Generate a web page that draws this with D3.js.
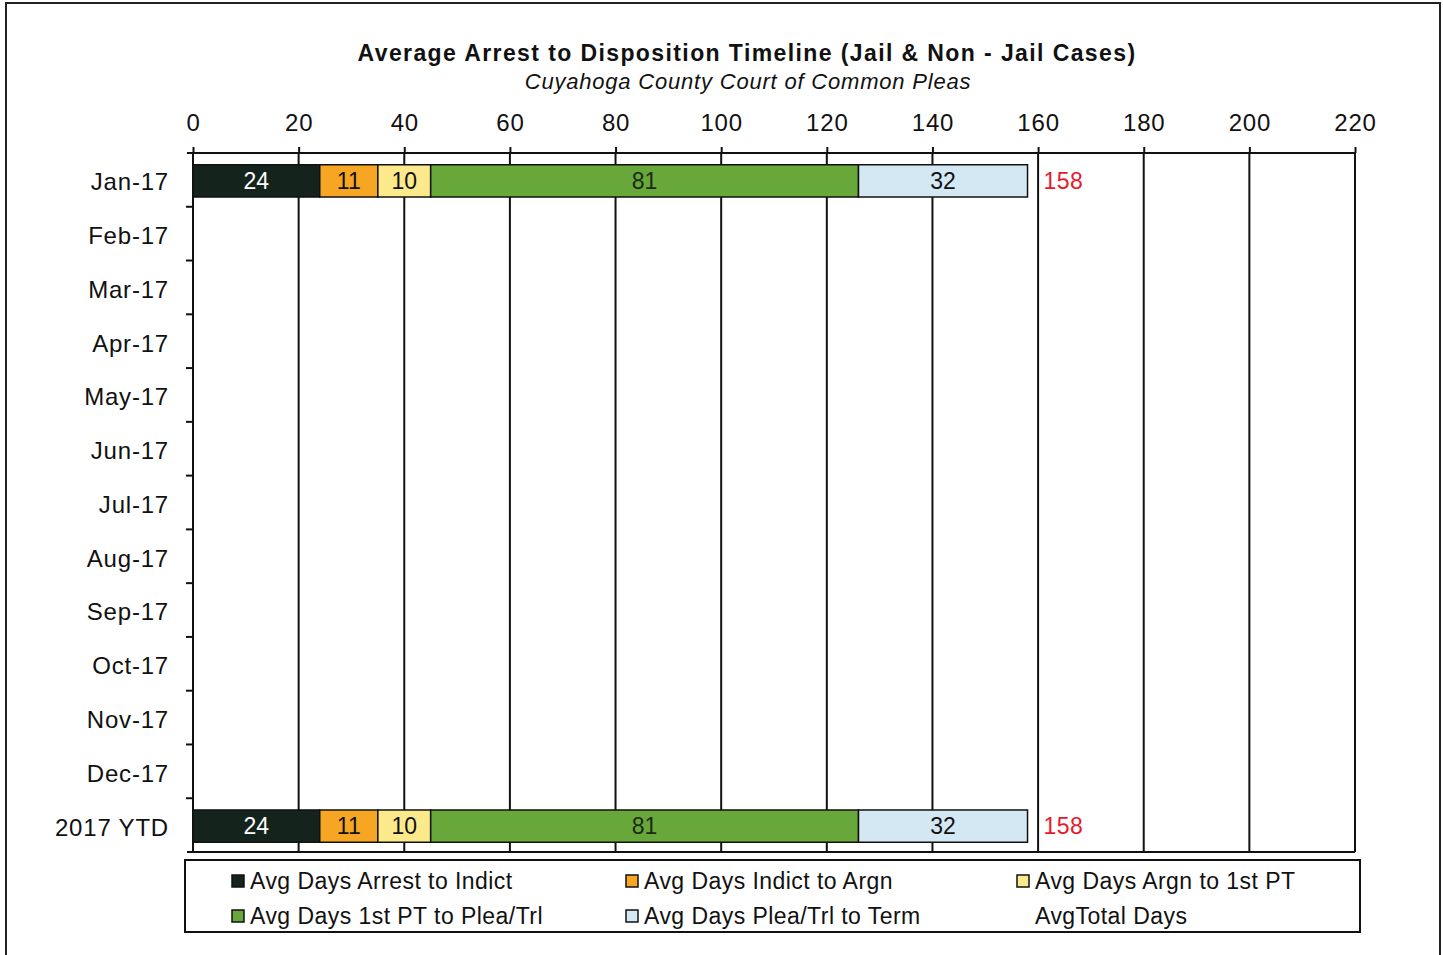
<!DOCTYPE html>
<html lang="en">
<head>
    <meta charset="UTF-8">
    <title>Average Arrest to Disposition Timeline</title>
    <script src="https://d3js.org/d3.v7.min.js"></script>
    <style>
        body {margin: 0; background: #fff;}
        svg text {font-family: "Liberation Sans", Arial, sans-serif; fill: #111;}
        .axis path, .axis line {stroke: #111; stroke-width: 2px;}
        .grid {stroke: #111; stroke-width: 2px;}
    </style>
</head>
<body>
<script>
    const width  = 1443;
    const height = 955;

    const categories = ["Jan-17","Feb-17","Mar-17","Apr-17","May-17","Jun-17","Jul-17",
                        "Aug-17","Sep-17","Oct-17","Nov-17","Dec-17","2017 YTD"];
    const seriesNames = ["Avg Days Arrest to Indict","Avg Days Indict to Argn","Avg Days Argn to 1st PT",
                         "Avg Days 1st PT to Plea/Trl","Avg Days Plea/Trl to Term"];
    const seriesColors = ["#14231c","#f6a623","#fbe98c","#68a83a","#d4e8f4"];
    const labelColors  = ["#fff","#111","#111","#1c2a14","#111"];
    // days per stage, null = no data for that month
    const arrestToIndict = [24,null,null,null,null,null,null,null,null,null,null,null,24];
    const indictToArgn   = [11,null,null,null,null,null,null,null,null,null,null,null,11];
    const argnToPT       = [10,null,null,null,null,null,null,null,null,null,null,null,10];
    const ptToPlea       = [81,null,null,null,null,null,null,null,null,null,null,null,81];
    const pleaToTerm     = [32,null,null,null,null,null,null,null,null,null,null,null,32];
    const totalDays      = [158,null,null,null,null,null,null,null,null,null,null,null,158];
    const xTicks = [0,20,40,60,80,100,120,140,160,180,200,220];

    const seriesValues = [arrestToIndict, indictToArgn, argnToPT, ptToPlea, pleaToTerm];

    const plot = {left: 193, right: 1355, top: 153, bottom: 852};

    const x = d3.scaleLinear().domain([0,220]).range([plot.left, plot.right]);
    const y = d3.scaleBand().domain(categories).range([plot.top + 1, plot.bottom + 1])
                .paddingInner(0.4).paddingOuter(0.2);

    const svg = d3.select("body").append("svg").attr("width", width).attr("height", height);

    // outer frame
    svg.append("rect").attr("x", 6).attr("y", 3).attr("width", 1434).attr("height", 970)
        .attr("fill", "none").attr("stroke", "#222").attr("stroke-width", 2);

    // titles
    svg.append("text").attr("x", 747).attr("y", 61).attr("text-anchor", "middle")
        .style("font-size", "23px").style("font-weight", "bold").style("letter-spacing", "1.4px")
        .text("Average Arrest to Disposition  Timeline (Jail & Non - Jail Cases)");
    svg.append("text").attr("x", 748).attr("y", 89).attr("text-anchor", "middle")
        .style("font-size", "22px").style("font-style", "italic").style("letter-spacing", "0.8px")
        .text("Cuyahoga County Court of Common Pleas");

    // vertical grid
    svg.append("g").selectAll("line").data(xTicks).join("line")
        .attr("class", "grid")
        .attr("x1", d => x(d)).attr("x2", d => x(d))
        .attr("y1", plot.top).attr("y2", plot.bottom);

    // top axis
    const xAxis = d3.axisTop(x).tickValues(xTicks).tickSizeInner(6).tickSizeOuter(0).tickPadding(16);
    const gx = svg.append("g").attr("class", "axis")
        .attr("transform", "translate(0," + plot.top + ")").call(xAxis);
    gx.select(".domain").attr("d", "M" + (plot.left - 6) + ",0H" + plot.right);
    gx.selectAll("text").style("font-size", "24px").style("letter-spacing", "0.8px").attr("fill", "#111");

    // bottom line
    svg.append("line").attr("class", "grid")
        .attr("x1", plot.left - 6).attr("x2", plot.right)
        .attr("y1", plot.bottom).attr("y2", plot.bottom);

    // left axis: labels and boundary ticks
    const step = y.step();
    const bounds = d3.range(1, categories.length).map(i => plot.top + i * step);
    svg.append("g").selectAll("line").data(bounds).join("line")
        .attr("class", "grid")
        .attr("x1", plot.left - 7).attr("x2", plot.left)
        .attr("y1", d => d).attr("y2", d => d);
    svg.append("g").selectAll("text").data(categories).join("text")
        .attr("x", 169).attr("y", d => y(d) + y.bandwidth() / 2 + 1)
        .attr("dy", "0.35em").attr("text-anchor", "end")
        .style("font-size", "24px").style("letter-spacing", "0.8px")
        .text(d => d);

    // stacked bars
    const rows = categories.map((c, i) => {
        let acc = 0;
        const segs = seriesValues.map((s, k) => {
            const v = s[i];
            const seg = {cat: c, k: k, v: v, x0: acc, x1: acc + (v || 0)};
            acc += v || 0;
            return seg;
        }).filter(s => s.v != null);
        return {cat: c, segs: segs, total: totalDays[i]};
    }).filter(r => r.segs.length);

    const barG = svg.append("g");
    rows.forEach(r => {
        const g = barG.append("g");
        g.selectAll("rect").data(r.segs).join("rect")
            .attr("x", d => x(d.x0)).attr("width", d => x(d.x1) - x(d.x0))
            .attr("y", y(r.cat)).attr("height", y.bandwidth())
            .attr("fill", d => seriesColors[d.k])
            .attr("stroke", "#111").attr("stroke-width", 1.5);
        g.selectAll("text").data(r.segs).join("text")
            .attr("x", d => x((d.x0 + d.x1) / 2)).attr("y", y(r.cat) + y.bandwidth() / 2)
            .attr("dy", "0.36em").attr("text-anchor", "middle")
            .style("font-size", "23px").style("fill", d => labelColors[d.k])
            .text(d => d.v);
        g.append("text")
            .attr("x", x(r.total) + 16).attr("y", y(r.cat) + y.bandwidth() / 2)
            .attr("dy", "0.36em")
            .style("font-size", "23px").style("letter-spacing", "0.5px").style("fill", "#e8192c")
            .text(r.total);
    });

    // legend
    const legend = svg.append("g");
    legend.append("rect").attr("x", 185).attr("y", 860).attr("width", 1175).attr("height", 72)
        .attr("fill", "#fff").attr("stroke", "#111").attr("stroke-width", 2);
    const legendItems = seriesNames.map((n, k) => ({name: n, color: seriesColors[k]}))
        .concat([{name: "AvgTotal Days", color: null}]);
    const colX = [232, 626, 1017];
    const rowY = [881, 916];
    legendItems.forEach((d, i) => {
        const lx = colX[i % 3], ly = rowY[Math.floor(i / 3)];
        if (d.color) {
            legend.append("rect").attr("x", lx).attr("y", ly - 6).attr("width", 12).attr("height", 12)
                .attr("fill", d.color).attr("stroke", "#111").attr("stroke-width", 1.5);
        }
        legend.append("text").attr("x", lx + 18).attr("y", ly).attr("dy", "0.36em")
            .style("font-size", "23px").style("letter-spacing", "0.45px").text(d.name);
    });
</script>
</body>
</html>
